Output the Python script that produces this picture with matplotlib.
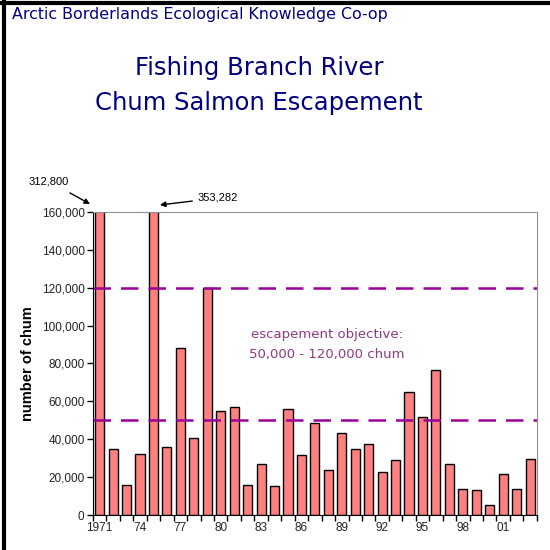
import matplotlib
matplotlib.use('Agg')
import matplotlib.pyplot as plt
from matplotlib.lines import Line2D
from matplotlib.ticker import FuncFormatter, FixedLocator
import numpy as np

# data
years = list(range(1971, 2004))
chum = [312800, 35100, 15800, 32100, 353282, 36100, 88300, 40700, 119600, 54700,
        57000, 15800, 27000, 15300, 56000, 31600, 48600, 23700, 43500, 35100,
        37700, 22500, 28800, 64900, 51900, 76800, 27000, 13500, 13000, 5100,
        21400, 13500, 29500]
year_labels = ['1971', '74', '77', '80', '83', '86', '89', '92', '95', '98', '01']
objective_low = 50000
objective_high = 120000

navy = '#000080'
purple = '#990099'
plum = '#8e3a80'

fig = plt.figure(figsize=(5.5, 5.5), dpi=100)
fig.patch.set_facecolor('white')

# window-style border on top and left
fig.add_artist(Line2D([0, 1], [0.995, 0.995], color='black', lw=3, transform=fig.transFigure))
fig.add_artist(Line2D([0.007, 0.007], [0, 1], color='black', lw=3, transform=fig.transFigure))

fig.text(0.022, 0.974, 'Arctic Borderlands Ecological Knowledge Co-op',
         color=navy, fontsize=11.4, va='center', ha='left')
fig.text(0.471, 0.876, 'Fishing Branch River', color=navy, fontsize=17.5,
         ha='center', va='center')
fig.text(0.471, 0.812, 'Chum Salmon Escapement', color=navy, fontsize=17.5,
         ha='center', va='center')

ax = fig.add_axes([0.169, 0.0636, 0.807, 0.551])
x = np.arange(len(years))
ax.bar(x, chum, width=0.68, color='#ff8080', edgecolor='black', linewidth=1)
ax.axhline(objective_high, color=purple, lw=1.8, dashes=(7, 4))
ax.axhline(objective_low, color=purple, lw=1.8, dashes=(7, 4))

ax.set_xlim(-0.5, len(years) - 0.5)
ax.set_ylim(0, 160000)
ax.set_yticks(np.arange(0, 160001, 20000))
ax.yaxis.set_major_formatter(FuncFormatter(lambda v, p: f'{int(v):,}'))
ax.xaxis.set_major_locator(FixedLocator(np.arange(0, len(years), 3)))
ax.set_xticklabels(year_labels)
ax.xaxis.set_minor_locator(FixedLocator(np.arange(-0.5, len(years), 1)))
ax.tick_params(axis='x', which='major', length=0, pad=5)
ax.tick_params(axis='x', which='minor', length=4, direction='out', width=1)
ax.tick_params(axis='y', length=4, direction='out', width=1, pad=2)
for lab in ax.get_xticklabels() + ax.get_yticklabels():
    lab.set_fontfamily('Liberation Sans')
    lab.set_fontsize(8.5)
    lab.set_color('#222222')

ax.spines['top'].set_color('#909090')
ax.spines['right'].set_color('#909090')
ax.spines['left'].set_color('black')
ax.spines['bottom'].set_color('black')

ax.set_ylabel('number of chum', fontfamily='Liberation Sans', fontweight='bold',
              fontsize=10.5, labelpad=5)

# clipped bar values
ax.annotate(f'{chum[0]:,}', xy=(-0.72, 164200), xytext=(-3.8, 176300),
            fontfamily='Liberation Sans', fontsize=8, ha='center', va='center',
            annotation_clip=False,
            arrowprops=dict(arrowstyle='-|>', color='black', lw=1, shrinkA=6, shrinkB=0,
                            mutation_scale=8))
ax.annotate(f'{chum[4]:,}', xy=(4.48, 163700), xytext=(7.3, 167400),
            fontfamily='Liberation Sans', fontsize=8, ha='left', va='center',
            annotation_clip=False,
            arrowprops=dict(arrowstyle='-|>', color='black', lw=1, shrinkA=2, shrinkB=0,
                            mutation_scale=8))

ax.text(16.9, 95500, 'escapement objective:', color=plum, fontsize=9.5,
        ha='center', va='center')
ax.text(16.9, 85000, f'{objective_low:,} - {objective_high:,} chum', color=plum,
        fontsize=9.5, ha='center', va='center')

fig.savefig('out.png', dpi=100, facecolor='white')
